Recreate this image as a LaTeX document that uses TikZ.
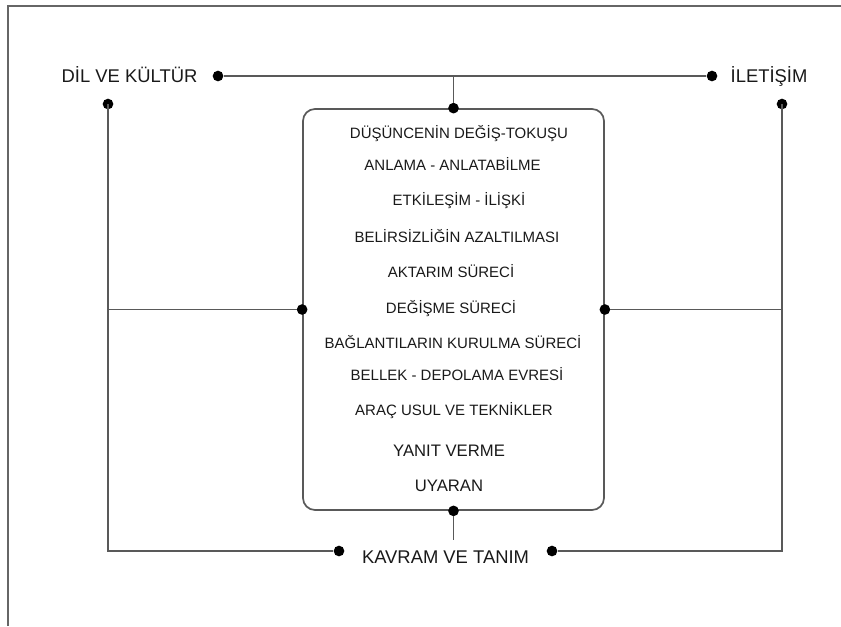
\documentclass[tikz,border=0pt]{standalone}
\usepackage{fontspec}
\setmainfont{Liberation Sans}
\usepackage{tikz}
\usetikzlibrary{calc,positioning}

\begin{document}
\begin{tikzpicture}[x=0.75pt,y=-0.75pt,
		cizgi/.style={draw=black!65,line width=1.3pt},
		nokta/.style={circle,fill=black,inner sep=0pt,minimum size=8pt},
		baslik/.style={anchor=base,inner sep=0pt,text=black!90,font=\fontsize{13.8}{16}\selectfont},
		madde/.style={anchor=base,inner sep=0pt,text=black!90,font=\fontsize{11.25}{13}\selectfont},
		buyuk/.style={anchor=base,inner sep=0pt,text=black!90,font=\fontsize{12.5}{14}\selectfont}]
			\useasboundingbox (0,0) rectangle (841,626);
			\draw[draw=black!60,line width=1.1pt] (8,626)--(8,6)--(841,6);
			
			\node[draw=black!65,line width=1.3pt,rounded corners=9pt,inner sep=0pt,
				minimum width=225.75pt,minimum height=300.75pt] (kutu) at (453.5,309.5) {};
			
			\node[baslik] (dil) at (129.5,82) {DİL VE KÜLTÜR};
			\node[baslik] (ilet) at (769,82) {İLETİŞİM};
			\node[baslik] (kavram) at (445.5,563.5) {KAVRAM VE TANIM};
			
			\node[madde] (m1) at (459,138) {DÜŞÜNCENİN DEĞİŞ-TOKUŞU};
			\node[madde] (m2) at (452.5,170) {ANLAMA - ANLATABİLME};
			\node[madde] (m3) at (459,205.5) {ETKİLEŞİM - İLİŞKİ};
			\node[madde] (m4) at (457,242.5) {BELİRSİZLİĞİN AZALTILMASI};
			\node[madde] (m5) at (451,277.5) {AKTARIM SÜRECİ};
			\node[madde] (m6) at (451,313.5) {DEĞİŞME SÜRECİ};
			\node[madde] (m7) at (453,348.5) {BAĞLANTILARIN KURULMA SÜRECİ};
			\node[madde] (m8) at (457,380.5) {BELLEK - DEPOLAMA EVRESİ};
			\node[madde] (m9) at (454,415.5) {ARAÇ USUL VE TEKNİKLER};
			\node[buyuk] (m10) at (449,456) {YANIT VERME};
			\node[buyuk] (m11) at (449,491) {UYARAN};
			
			\node[nokta] (D1) at (218,76) {};
			\node[nokta] (D2) at (712,76) {};
			\node[nokta] (D3) at (108,104) {};
			\node[nokta] (D4) at (782,104) {};
			\node[nokta] (D5) at (339,551) {};
			\node[nokta] (D6) at (552,551) {};
			\node[nokta] (K1) at (kutu.north) {};
			\node[nokta] (K2) at (kutu.west) {};
			\node[nokta] (K3) at (kutu.east) {};
			\node[nokta] (K4) at (kutu.south) {};
			\coordinate (A) at ($(kutu.south)+(0,29)$);
			
			\draw[cizgi] (D1)--(D2);
			\draw[cizgi] (K1)--(K1 |- D1);
			\draw[cizgi] (D3.center) |- (D5);
			\draw[cizgi] (D4.center) |- (D6);
			\draw[cizgi] (K2)--(K2 -| D3);
			\draw[cizgi] (K3)--(K3 -| D4);
			\draw[cizgi] (K4)--(A);
		\end{tikzpicture}
\end{document}
